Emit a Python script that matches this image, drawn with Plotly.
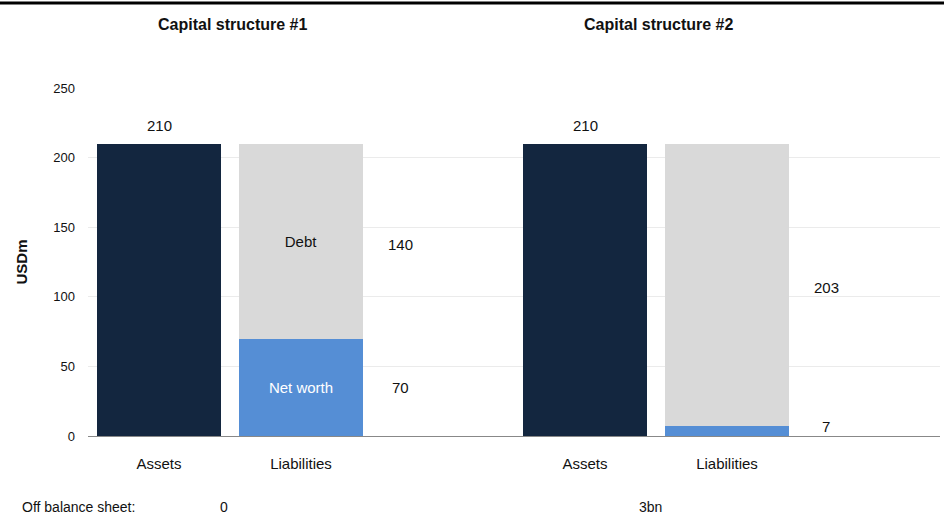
import plotly.graph_objects as go

# Balance sheet data, USD millions
structures = ["Capital structure #1", "Capital structure #2"]
assets = [210, 210]
net_worth = [70, 7]
debt = [140, 203]
off_balance = ["0", "3bn"]
categories = ["Assets", "Liabilities"]

NAVY = "#13263f"
GREY = "#d9d9d9"
BLUE = "#558ed5"
FONT = "Liberation Sans Narrow, Arial Narrow, Liberation Sans, Arial, sans-serif"

# each structure takes three slots: assets, liabilities, spacer
x_assets = [3 * i for i in range(len(structures))]
x_liab = [3 * i + 1 for i in range(len(structures))]
bw = 0.87

fig = go.Figure()
fig.add_trace(go.Bar(x=x_assets, y=assets, width=bw, marker_color=NAVY,
                     marker_line_width=0, showlegend=False, hoverinfo="y"))
fig.add_trace(go.Bar(x=x_liab, y=net_worth, width=bw, marker_color=BLUE,
                     marker_line_width=0, showlegend=False,
                     text=["Net worth", ""], textposition="inside",
                     insidetextanchor="middle",
                     textfont=dict(color="white", size=15, family=FONT)))
fig.add_trace(go.Bar(x=x_liab, y=debt, width=bw, marker_color=GREY,
                     marker_line_width=0, showlegend=False,
                     text=["Debt", ""], textposition="inside",
                     insidetextanchor="middle",
                     textfont=dict(color="#111111", size=15, family=FONT)))

PLOT_H = 348  # pixel height of the plotting area
ann = []
for i, name in enumerate(structures):
    mid = 3 * i + 0.5
    ann.append(dict(x=mid + 0.015, y=(436 - 24) / PLOT_H, xref="x", yref="paper",
                    yanchor="middle", text=f"<b>{name}</b>",
                    showarrow=False, font=dict(size=16, family=FONT, color="#111111")))
    ann.append(dict(x=x_assets[i], y=assets[i], yshift=8, yanchor="bottom",
                    text=str(assets[i]), showarrow=False,
                    font=dict(size=15, family=FONT, color="#111111")))
    ann.append(dict(x=x_liab[i] + 0.7, y=net_worth[i] + debt[i] / 2,
                    text=str(debt[i]), showarrow=False, yshift=-3,
                    font=dict(size=15, family=FONT, color="#111111")))
    ann.append(dict(x=x_liab[i] + 0.7, y=max(net_worth[i] / 2, 7),
                    text=str(net_worth[i]), showarrow=False,
                    font=dict(size=15, family=FONT, color="#111111")))
    ann.append(dict(x=mid - 0.04, y=(436 - 507) / PLOT_H, xref="x", yref="paper",
                    yanchor="middle", text=off_balance[i],
                    showarrow=False, font=dict(size=14, family=FONT, color="#111111")))

ann.append(dict(x=(20 - 88) / 852, y=(436 - 507) / PLOT_H, xref="paper", yref="paper",
                xanchor="left", yanchor="middle",
                text="Off balance sheet:", showarrow=False,
                font=dict(size=14, family=FONT, color="#111111")))

fig.update_layout(
    width=944, height=522,
    margin=dict(l=88, r=4, t=88, b=86),
    barmode="stack", bargap=0,
    plot_bgcolor="white", paper_bgcolor="white",
    font=dict(family=FONT, color="#111111"),
    annotations=ann,
    shapes=[dict(type="line", xref="paper", yref="paper",
                 x0=-88 / 852, x1=(944 - 88) / 852, y0=433 / PLOT_H, y1=433 / PLOT_H,
                 line=dict(color="black", width=3))],
    xaxis=dict(range=[-0.5, 5.5], tickvals=x_assets + x_liab,
               ticktext=[categories[0]] * len(x_assets) + [categories[1]] * len(x_liab),
               tickfont=dict(size=15, family=FONT, color="#111111"),
               showgrid=False, zeroline=False, showline=True, linecolor="#888888",
               linewidth=1, ticks="", ticklabelstandoff=14),
    yaxis=dict(range=[0, 250], tickvals=[0, 50, 100, 150, 200, 250],
               tickfont=dict(size=13, family=FONT, color="#111111"),
               showgrid=True, gridcolor="#ebebeb", gridwidth=1, zeroline=False,
               showline=False, ticks="", ticklabelstandoff=12,
               title=dict(text="<b>USDm</b>", standoff=22,
                          font=dict(size=15, family=FONT, color="#111111"))),
)

fig.write_html("out.html")
